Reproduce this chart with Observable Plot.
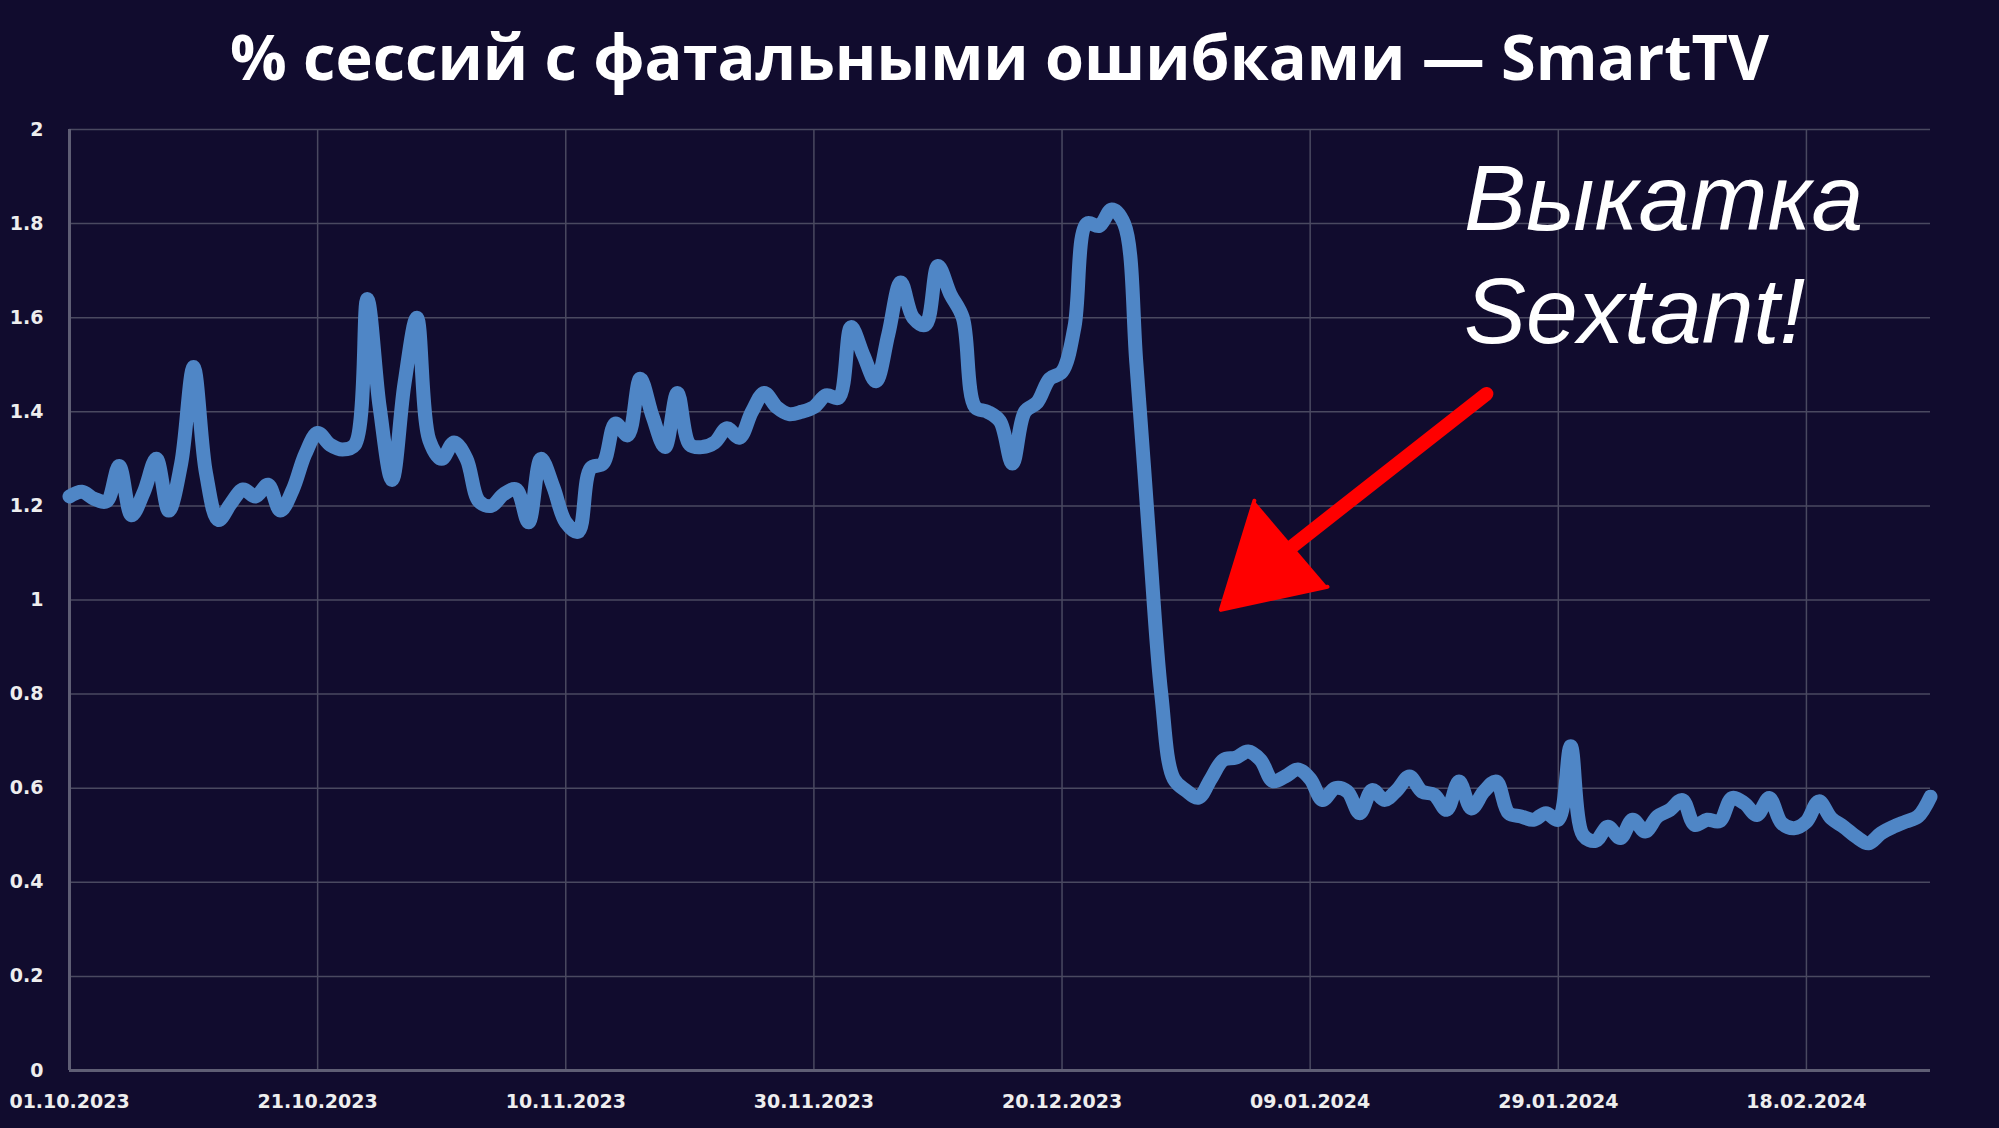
<!DOCTYPE html>
<html>
<head>
<meta charset="utf-8">
<script src="https://cdn.jsdelivr.net/npm/d3@7"></script>
<script src="https://cdn.jsdelivr.net/npm/@observablehq/plot@0.6"></script>
<style>
  html, body { margin: 0; padding: 0; background: #110c2e; width: 1999px; height: 1128px; overflow: hidden; }
  #title { height: 115px; line-height: 112px; text-align: center; color: #ffffff;
           font-family: "Open Sans", "DejaVu Sans", sans-serif; font-weight: 700; font-size: 63px; white-space: nowrap; }
  #chart svg { display: block; }
</style>
</head>
<body>
<div id="title">% сессий с фатальными ошибками — SmartTV</div>
<div id="chart"></div>
<script>
// ---- Data ----
const startDate = "2023-10-01";
const values = [
  1.22, 1.23, 1.215, 1.21, 1.285, 1.18, 1.23, 1.30, 1.19, 1.29,
  1.495, 1.27, 1.17, 1.205, 1.235, 1.22, 1.245, 1.19, 1.235, 1.31,
  1.355, 1.33, 1.32, 1.33, 1.64, 1.41, 1.255, 1.46, 1.60, 1.34,
  1.30, 1.335, 1.30, 1.21, 1.20, 1.225, 1.235, 1.165, 1.30, 1.24,
  1.165, 1.145, 1.28, 1.29, 1.375, 1.35, 1.47, 1.39, 1.325, 1.44,
  1.33, 1.325, 1.335, 1.365, 1.345, 1.40, 1.44, 1.41, 1.395, 1.40,
  1.41, 1.435, 1.43, 1.58, 1.52, 1.465, 1.565, 1.675, 1.60, 1.585,
  1.71, 1.65, 1.60, 1.41, 1.40, 1.38, 1.29, 1.40, 1.42, 1.47,
  1.485, 1.58, 1.80, 1.795, 1.83, 1.80, 1.50, 1.14, 0.80, 0.62,
  0.595, 0.58, 0.62, 0.66, 0.665, 0.678, 0.66, 0.615, 0.625, 0.64,
  0.62, 0.575, 0.60, 0.593, 0.547, 0.596, 0.575, 0.596, 0.625, 0.593,
  0.586, 0.554, 0.614, 0.557, 0.593, 0.614, 0.547, 0.54, 0.533, 0.547,
  0.533, 0.689, 0.50, 0.488, 0.518, 0.494, 0.533, 0.508, 0.54, 0.554,
  0.575, 0.522, 0.533, 0.53, 0.579, 0.568, 0.543, 0.579, 0.526, 0.515,
  0.529, 0.572, 0.536, 0.518, 0.497, 0.483, 0.504, 0.518, 0.529, 0.54,
  0.582
];
const xTickLabels = ["01.10.2023", "21.10.2023", "10.11.2023", "30.11.2023",
                     "20.12.2023", "09.01.2024", "29.01.2024", "18.02.2024"];
const yTicks = [0, 0.2, 0.4, 0.6, 0.8, 1, 1.2, 1.4, 1.6, 1.8, 2];
const yTickLabels = ["0", "0.2", "0.4", "0.6", "0.8", "1", "1.2", "1.4", "1.6", "1.8", "2"];

// Annotation (in data space: day offset from start, value)
const annotationText = ["Выкатка", "Sextant!"];
const annotationDay = [112.4, 112.4];
const annotationValue = [1.787, 1.547];
const arrowShaftDay = [114.2, 98.6];
const arrowShaftValue = [1.438, 1.115];
const arrowHeadDay = [95.5, 92.8, 101.4];
const arrowHeadValue = [1.211, 0.979, 1.028];

// ---- Build ----
const start = d3.utcParse("%Y-%m-%d")(startDate);
const dayToDate = d => new Date(+start + d * 864e5);
const series = values.map((v, i) => ({date: d3.utcDay.offset(start, i), value: v}));
const parseTick = d3.utcParse("%d.%m.%Y");
const xTicks = xTickLabels.map(parseTick);
const annot = annotationText.map((t, i) => ({text: t, date: dayToDate(annotationDay[i]), value: annotationValue[i]}));
const shaft = arrowShaftDay.map((d, i) => ({date: dayToDate(d), value: arrowShaftValue[i]}));
const head = arrowHeadDay.map((d, i) => ({date: dayToDate(d), value: arrowHeadValue[i]}));

const gridColor = "#4a4960";
const axisColor = "#5f5e74";

const chart = Plot.plot({
  width: 1999,
  height: 1013,
  marginTop: 14,
  marginBottom: 58,
  marginLeft: 69,
  marginRight: 69,
  style: {background: "#110c2e", color: "#eeeeee", fontFamily: "DejaVu Sans", fontSize: "19px", fontWeight: "bold"},
  x: {type: "utc", domain: [series[0].date, series[series.length - 1].date]},
  y: {domain: [0, 2]},
  marks: [
    Plot.gridY(yTicks, {stroke: gridColor, strokeOpacity: 1, strokeWidth: 1.5}),
    Plot.gridX(xTicks.slice(1), {stroke: gridColor, strokeOpacity: 1, strokeWidth: 1.5}),
    Plot.ruleY([0], {stroke: axisColor, strokeWidth: 3}),
    Plot.ruleX([xTicks[0]], {stroke: axisColor, strokeWidth: 3}),
    Plot.axisY(yTicks, {tickSize: 0, tickPadding: 26, label: null,
      tickFormat: d => yTickLabels[yTicks.indexOf(d)]}),
    Plot.axisX(xTicks, {tickSize: 0, tickPadding: 24, label: null,
      tickFormat: d => xTickLabels[xTicks.findIndex(t => +t === +d)]}),
    Plot.line(series, {x: "date", y: "value", stroke: "#4f86c6", strokeWidth: 14,
      curve: "catmull-rom", strokeLinejoin: "round", strokeLinecap: "round"}),
    Plot.line(shaft, {x: "date", y: "value", stroke: "#ff0000", strokeWidth: 14, strokeLinecap: "round"}),
    Plot.line(head, {x: "date", y: "value", stroke: "#ff0000", fill: "#ff0000", strokeWidth: 4, strokeLinejoin: "round"}),
    Plot.text(annot, {x: "date", y: "value", text: "text", fill: "#ffffff", fontSize: 93,
      fontStyle: "italic", fontWeight: "normal", fontFamily: "Liberation Sans, Arial, sans-serif",
      textAnchor: "start", lineAnchor: "bottom"})
  ]
});
document.getElementById("chart").appendChild(chart);
</script>
</body>
</html>
